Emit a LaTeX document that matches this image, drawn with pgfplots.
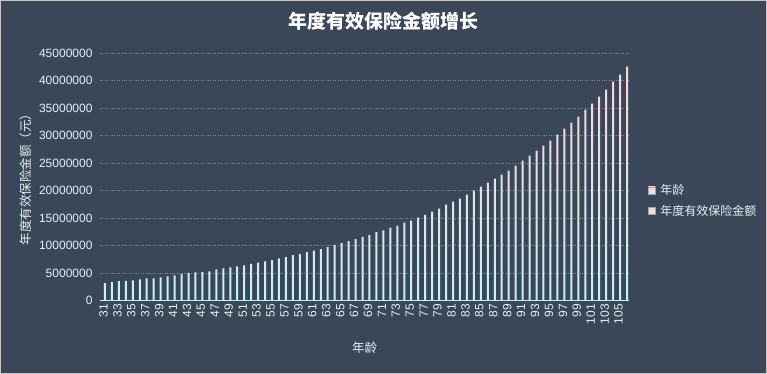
\documentclass[border=0pt]{standalone}
\usepackage{fontspec}
\setmainfont{Liberation Sans}
\newfontfamily\cjk{Noto Sans CJK SC}
\usepackage{pgfplots}
\usepackage{pgfplotstable}
\pgfplotsset{compat=1.18}
\definecolor{bg}{HTML}{3A4759}
\definecolor{txt}{HTML}{E8F0F2}
\definecolor{barpink}{HTML}{FFD3DA}
\definecolor{barcyan}{HTML}{C4F3F6}
\definecolor{axcyan}{HTML}{C8F2F6}
\definecolor{gridc}{HTML}{8A8F96}
\pgfplotstableread{
age amount
31 3170000
32 3350000
33 3540000
34 3570000
35 3660000
36 3840000
37 4020000
38 4030000
39 4210000
40 4390000
41 4570000
42 4820000
43 5000000
44 5120000
45 5140000
46 5300000
47 5670000
48 5850000
49 6040000
50 6220000
51 6400000
52 6650000
53 6890000
54 7130000
55 7320000
56 7680000
57 7870000
58 8230000
59 8410000
60 8780000
61 9090000
62 9330000
63 9700000
64 10120000
65 10430000
66 10790000
67 11160000
68 11590000
69 11950000
70 12440000
71 12750000
72 13230000
73 13590000
74 14140000
75 14500000
76 15050000
77 15590000
78 16140000
79 16690000
80 17420000
81 17960000
82 18510000
83 19240000
84 19960000
85 20690000
86 21420000
87 22150000
88 22880000
89 23600000
90 24510000
91 25420000
92 26330000
93 27250000
94 28160000
95 29070000
96 30160000
97 31250000
98 32340000
99 33430000
100 34710000
101 35800000
102 37080000
103 38350000
104 39810000
105 41080000
106 42540000
}\data

\begin{document}
\begin{tikzpicture}
\fill[bg] (0,0) rectangle (767pt,374pt);
\draw[gray!45, line width=1pt] (0.5pt,0.5pt) rectangle (766.5pt,373.5pt);
\begin{axis}[
  at={(100pt,73.5pt)}, anchor=south west,
  scale only axis, width=529pt, height=247.5pt,
  ybar=1pt, bar width=2pt,
  xmin=30.5, xmax=106.5, ymin=0, ymax=45000000,
  xtick={31,33,...,105},
  ytick={0,5000000,...,45000000},
  scaled y ticks=false,
  /pgf/number format/assume math mode=true,
  yticklabel style={/pgf/number format/fixed, /pgf/number format/1000 sep={}, font=\fontsize{12}{14}\selectfont, text=txt, xshift=-4pt},
  xticklabel style={rotate=90, anchor=east, font=\fontsize{12}{14}\selectfont, text=txt},
  major tick length=0pt,
  xtick style={draw=none}, ytick style={draw=none},
  axis x line*=bottom, axis y line*=left,
  x axis line style={draw=axcyan, line width=1pt},
  y axis line style={draw=none},
  ymajorgrids, grid style={dotted, gridc, line width=0.8pt},
  title={\cjk\bfseries 年度有效保险金额增长},
  title style={at={(axis description cs:0.536,1.105)}, anchor=center, font=\fontsize{19}{22}\selectfont, text=white},
  xlabel={\cjk 年龄},
  xlabel style={at={(axis description cs:0.5,-0.19)}, anchor=center, font=\fontsize{12.5}{14}\selectfont, text=txt},
  ylabel={\cjk 年度有效保险金额（元）},
  ylabel style={at={(axis description cs:-0.141,0.5)}, anchor=center, font=\fontsize{12.5}{14}\selectfont, text=txt},
  legend style={at={(1.03,0.403)}, anchor=west, draw=none, fill=none, font=\cjk\fontsize{12}{14}\selectfont, text=txt, row sep=5pt},
  legend cell align=left,
  legend image code/.code={\path[draw=gray!70, top color=barpink, bottom color=barcyan] (0pt,-3.5pt) rectangle (7pt,3.5pt);},
]
\addplot[draw=none, top color=barpink, bottom color=barcyan] table[x=age, y=age] {\data};
\addplot[draw=none, top color=barpink, bottom color=barcyan] table[x=age, y=amount] {\data};
\legend{\hspace{3pt}年龄, \hspace{3pt}年度有效保险金额}
\end{axis}
\pgfresetboundingbox
\path[use as bounding box] (0,0) rectangle (767pt,374pt);
\end{tikzpicture}
\end{document}
